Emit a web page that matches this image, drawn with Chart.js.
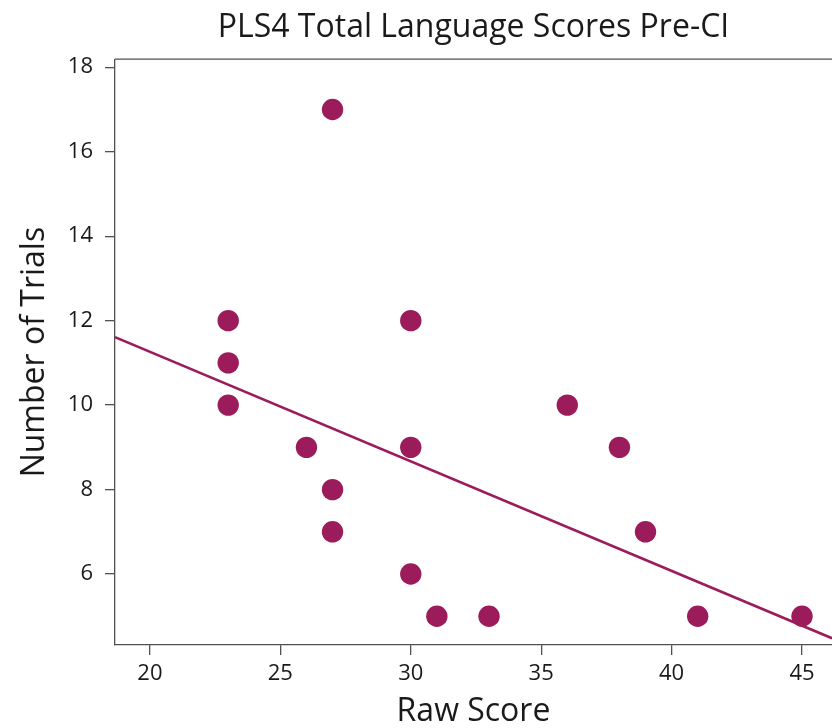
<!DOCTYPE html>
<html>
<head>
<meta charset="utf-8">
<script src="https://cdn.jsdelivr.net/npm/chart.js@4"></script>
<style>
  html, body { margin: 0; padding: 0; background: #fff; overflow: hidden; }
  canvas { display: block; }
</style>
</head>
<body>
<canvas id="chart" width="832" height="728"></canvas>
<script>
/* ---------- data ---------- */
const rawScore = [23, 23, 23, 27, 26, 27, 27, 30, 30, 30, 31, 33, 36, 38, 39, 41, 45];
const trials   = [12, 11, 10, 17,  9,  8,  7, 12,  9,  6,  5,  5, 10,  9,  7,  5,  5];

// fit line (ends at the plot edges)
const fitX = [18.66, 46.15];
const fitY = [11.61, 4.48];

const xTicks = [20, 25, 30, 35, 40, 45];
const yTicks = [6, 8, 10, 12, 14, 16, 18];

const plum = '#9c1b5b';
const axisGrey = '#505050';
const font = "'Open Sans', 'Noto Sans', sans-serif";

/* ---------- top border of the box ---------- */
const boxTop = {
  id: 'boxTop',
  afterDraw(chart) {
    const {ctx, chartArea: a} = chart;
    ctx.save();
    ctx.strokeStyle = axisGrey;
    ctx.lineWidth = 1.3;
    ctx.beginPath();
    ctx.moveTo(a.left, a.top);
    ctx.lineTo(a.right + 2, a.top);
    ctx.stroke();
    ctx.restore();
  }
};

new Chart(document.getElementById('chart'), {
  type: 'scatter',
  data: {
    datasets: [
      {
        data: rawScore.map((x, i) => ({x, y: trials[i]})),
        backgroundColor: plum,
        borderWidth: 0,
        pointRadius: 10.7
      },
      {
        type: 'line',
        data: fitX.map((x, i) => ({x, y: fitY[i]})),
        borderColor: plum,
        borderWidth: 2.6,
        pointRadius: 0,
        fill: false
      }
    ]
  },
  options: {
    responsive: false,
    devicePixelRatio: 1,
    animation: false,
    layout: { padding: 0, autoPadding: false },
    plugins: {
      legend: { display: false },
      tooltip: { enabled: false },
      title: {
        display: true,
        fullSize: false,
        text: 'PLS4 Total Language Scores Pre-CI',
        color: '#1a1a1a',
        font: { family: font, size: 32, weight: 'normal', lineHeight: 1.1 },
        padding: { top: 10, bottom: 14 }
      }
    },
    scales: {
      x: {
        type: 'linear',
        min: fitX[0],
        max: fitX[1],
        afterBuildTicks: s => { s.ticks = xTicks.map(v => ({value: v})); },
        afterFit: s => { s.height = 83; s.paddingLeft = 0; s.paddingRight = 0; },
        grid: { drawOnChartArea: false, tickLength: 10, color: axisGrey, lineWidth: 1.3 },
        border: { color: axisGrey, width: 1.3 },
        ticks: { color: '#1a1a1a', padding: 6, font: { family: font, size: 22 } },
        title: {
          display: true,
          text: 'Raw Score',
          color: '#1a1a1a',
          font: { family: font, size: 32, lineHeight: 1 },
          padding: { top: 0, bottom: 0 }
        }
      },
      y: {
        type: 'linear',
        min: 4.32,
        max: 18.19,
        afterBuildTicks: s => { s.ticks = yTicks.map(v => ({value: v})); },
        afterFit: s => { s.width = 115; },
        grid: { drawOnChartArea: false, tickLength: 10, color: axisGrey, lineWidth: 1.3 },
        border: { color: axisGrey, width: 1.3 },
        ticks: { color: '#1a1a1a', padding: 12, font: { family: font, size: 22 } },
        title: {
          display: true,
          text: 'Number of Trials',
          color: '#1a1a1a',
          font: { family: font, size: 32, lineHeight: 1 },
          padding: { top: 19, bottom: 0 }
        }
      }
    }
  },
  plugins: [boxTop]
});
</script>
</body>
</html>
